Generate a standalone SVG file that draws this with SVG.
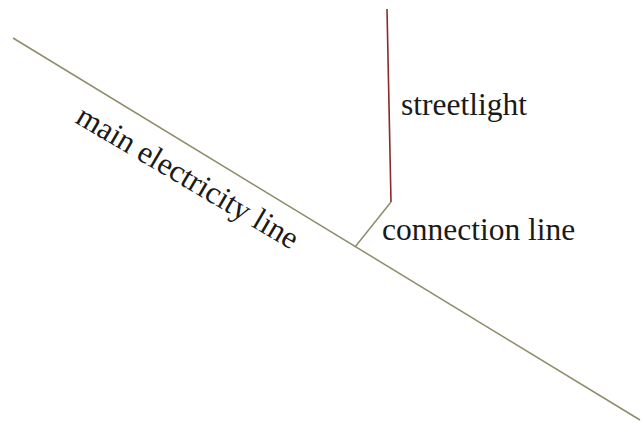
<svg xmlns="http://www.w3.org/2000/svg" width="642" height="423" viewBox="0 0 642 423">
<style>
.lbl{font-family:"Liberation Serif","Times New Roman",serif;font-size:31.5px;fill:#1a1a1a}
.wire{stroke:#8e8c68;stroke-width:1.5;fill:none}
.pole{stroke:#8b2a2a;stroke-width:1.6;fill:none}
</style>
<rect width="642" height="423" fill="#ffffff"/>
<g id="connectors">
<line class="wire" x1="13" y1="38" x2="640" y2="420"/>
<line class="wire" x1="391" y1="202" x2="355" y2="247"/>
</g>
<g id="streetlight">
<line class="pole" x1="387" y1="9" x2="391" y2="202"/>
<text class="lbl" x="401" y="115">streetlight</text>
</g>
<g id="connection-line">
<text class="lbl" x="382" y="240">connection line</text>
</g>
<g id="main-line">
<text class="lbl" transform="translate(74,122) rotate(30.5)">main electricity line</text>
</g>
</svg>
